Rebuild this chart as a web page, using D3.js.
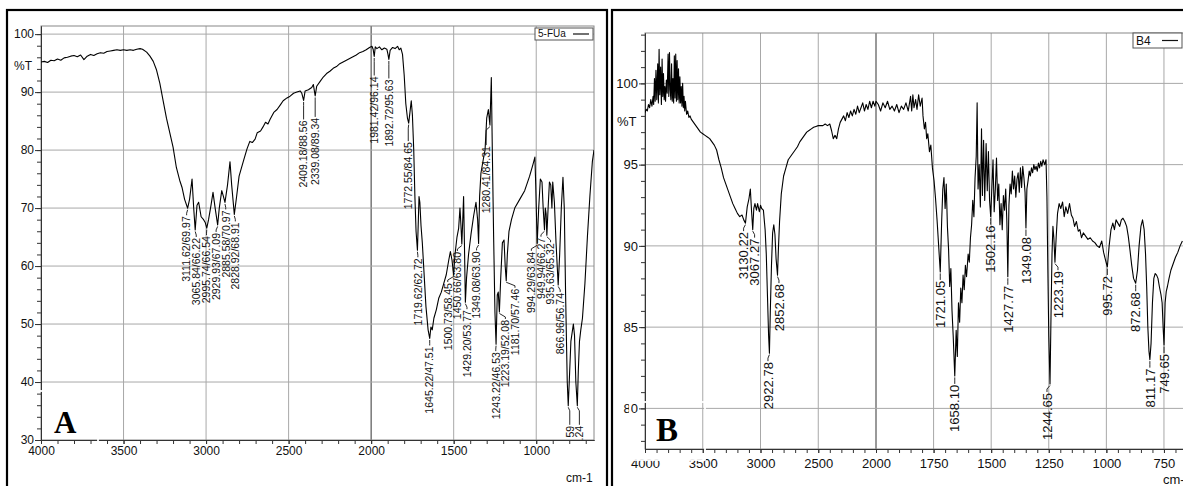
<!DOCTYPE html>
<html><head><meta charset="utf-8">
<script src="https://cdn.jsdelivr.net/npm/d3@7"></script>
<style>body{margin:0;background:#fff}svg{display:block}</style>
</head><body>
<svg id="c" width="1183" height="486"></svg>
<script>
// ---------------- DATA : panel A (5-FUa) ----------------
const specA_wn = [4000,3980,3960,3940,3920,3900,3880,3860,3840,3820,3800,3780,3760,3740,3720,3700,3680,3660,3640,3620,3600,3580,3560,3540,3520,3500,3480,3460,3440,3420,3400,3385,3360,3340,3320,3300,3280,3260,3240,3220,3200,3180,3160,3145,3130,3111.62,3100,3085,3075,3065.84,3055,3045,3030,3015,3005,2995.74,2985,2970,2958,2945,2929.93,2920,2905,2895,2885.58,2870,2855,2845,2828.92,2815,2800,2790,2770,2752,2735,2720,2703,2690,2670,2655,2640,2625,2612,2590,2570,2550,2533,2510,2491,2470,2450,2430,2420,2409.18,2400,2380,2360,2350,2339.08,2330,2310,2290,2270,2250,2230,2210,2190,2170,2150,2130,2110,2090,2070,2050,2030,2010,1995,1988,1981.42,1975,1965,1950,1935,1920,1905,1898,1892.72,1885,1870,1855,1840,1830,1820,1810,1800,1790,1780,1772.55,1765,1757,1750,1742,1735,1728,1719.62,1714,1710,1705,1698,1690,1680,1668,1655,1645.22,1638,1630,1620,1605,1590,1575,1560,1545,1530,1520,1510,1500.73,1492,1480,1470,1462,1456,1450.66,1445,1440,1435,1429.20,1422,1410,1395,1380,1365,1355,1349.08,1343,1335,1320,1310,1300,1290,1280.41,1272,1266,1258,1250,1243.22,1236,1230,1223.19,1215,1205,1195,1188,1181.70,1175,1165,1150,1130,1100,1070,1040,1020,1008,1003,994.29,985,975,965,958,949.94,945,940,935.63,928,920,912,905,900,890,880,866.96,858,848,838,830,822,812,806,800,790,775,768,760,751,745,738,730,720,705,690,675,660,650];
const specA_T = [95.2,95.3,95.1,95.5,95.4,95.7,95.5,95.9,96.0,96.2,96.3,96.1,96.4,95.6,96.2,96.5,96.3,96.6,96.8,96.7,97.0,97.1,97.2,97.3,97.2,97.3,97.2,97.3,97.2,97.4,97.5,97.4,96.9,96.2,95.3,93.8,91.5,88.5,85.5,83.0,80.5,77.0,74.8,73.5,71.5,69.97,71.5,75.0,70.0,66.22,70.5,71.0,68.5,68.0,67.5,66.54,68.0,70.5,72.7,70.0,67.09,70.0,73.0,72.0,70.97,74.0,78.0,74.0,68.91,72.0,75.5,76.5,78.5,80.2,81.5,81.3,81.9,83.0,83.3,84.0,84.8,84.5,85.3,86.5,87.0,87.8,88.5,89.0,89.3,89.8,90.0,90.2,89.8,88.56,90.2,90.4,90.8,91.3,89.34,91.0,91.8,92.6,93.2,93.6,94.1,94.4,94.9,95.2,95.5,95.8,96.1,96.4,96.8,97.0,97.3,97.7,97.9,97.4,96.14,97.8,97.5,97.8,97.3,97.6,97.4,96.5,95.63,97.2,97.7,97.5,97.9,97.3,97.6,96.5,93.0,88.0,85.5,84.65,86.5,88.5,86.0,80.0,72.0,66.0,62.72,68.0,72.0,71.0,67.0,64.0,59.0,53.0,49.0,47.51,49.5,49.0,51.0,52.5,54.5,55.5,57.0,58.5,61.0,62.5,61.0,58.45,62.0,65.0,66.5,70.0,67.0,63.80,68.0,72.0,64.0,53.77,58.0,62.0,65.5,68.5,71.0,68.0,63.90,72.0,76.0,78.5,80.0,85.5,87.0,84.31,92.5,80.0,65.0,52.0,46.53,55.0,55.5,52.08,58.0,64.0,64.5,60.0,57.46,62.0,66.0,68.0,70.0,71.5,73.0,75.5,77.5,78.8,74.0,63.84,70.0,75.0,74.5,70.0,66.27,70.0,69.0,65.32,70.0,74.5,74.0,70.0,74.5,71.0,64.0,56.74,62.0,70.0,75.3,70.0,55.0,40.0,35.9,40.0,47.0,50.0,48.0,40.0,35.9,42.0,47.0,49.0,51.0,57.0,65.0,72.0,78.0,80.0];
const peaksA_text = ["3111.62/69.97","3065.84/66.22","2995.74/66.54","2929.93/67.09","2885.58/70.97","2828.92/68.91","2409.18/88.56","2339.08/89.34","1981.42/96.14","1892.72/95.63","1772.55/84.65","1719.62/62.72","1645.22/47.51","1500.73/58.45","1450.66/63.80","1429.20/53.77","1349.08/63.90","1280.41/84.31","1243.22/46.53","1223.19/52.08","1181.70/57.46","994.29/63.84","949.94/66.27","935.63/65.32","866.96/56.74","59",".24"];
const peaksA_wn = [3111.62,3065.84,2995.74,2929.93,2885.58,2828.92,2409.18,2339.08,1981.42,1892.72,1772.55,1719.62,1645.22,1500.73,1450.66,1429.20,1349.08,1280.41,1243.22,1223.19,1181.70,994.29,949.94,935.63,866.96,806,751];
const peaksA_T = [69.97,66.22,66.54,67.09,70.97,68.91,88.56,89.34,96.14,95.63,84.65,62.72,47.51,58.45,63.80,53.77,63.90,84.31,46.53,52.08,57.46,63.84,66.27,65.32,56.74,35.9,35.9];
const ticksA_x = [4000,3500,3000,2500,2000,1500,1000];
const ticksA_y = [100,90,80,70,60,50,40,30];

// ---------------- DATA : panel B (B4) ----------------
const specB_wn = [4000,3990,3980,3970,3960,3950,3940,3930,3925,3918,3912,3905,3898,3890,3884,3878,3872,3865,3858,3852,3846,3840,3834,3828,3822,3815,3808,3800,3794,3788,3782,3776,3770,3764,3758,3752,3746,3740,3734,3728,3722,3716,3710,3704,3698,3692,3686,3680,3674,3668,3662,3656,3650,3640,3630,3620,3610,3600,3580,3560,3540,3520,3500,3480,3460,3440,3420,3400,3380,3360,3340,3320,3300,3280,3260,3240,3220,3200,3180,3160,3145,3130.22,3115,3100,3088,3078,3067.27,3058,3048,3035,3025,3010,3000,2990,2975,2960,2950,2940,2930,2922.78,2915,2905,2895,2885,2875,2865,2852.68,2845,2835,2820,2800,2780,2760,2740,2720,2700,2680,2660,2640,2620,2600,2580,2560,2540,2520,2500,2480,2460,2440,2420,2400,2385,2370,2355,2340,2325,2310,2295,2280,2265,2250,2235,2220,2205,2190,2175,2160,2145,2130,2115,2100,2085,2070,2055,2040,2025,2010,2000,1990,1980,1970,1960,1950,1940,1930,1920,1910,1900,1890,1880,1870,1860,1850,1845,1840,1835,1828,1822,1815,1808,1800,1796,1790,1785,1780,1775,1768,1762,1755,1748,1742,1735,1728,1721.05,1715,1710,1705,1700,1695,1690,1685,1680,1675,1670,1665,1658.10,1652,1647,1642,1637,1632,1627,1622,1617,1612,1607,1600,1595,1590,1585,1580,1575,1570,1565,1561,1557,1552,1547,1542,1538,1533,1528,1522,1517,1512,1507,1502.16,1497,1492,1487,1482,1477,1472,1467,1462,1457,1452,1447,1442,1437,1432,1427.77,1423,1418,1413,1408,1403,1398,1393,1388,1383,1378,1373,1368,1363,1358,1353,1349.08,1345,1340,1335,1330,1325,1320,1315,1310,1305,1300,1295,1290,1285,1280,1275,1268,1262,1258,1254,1250,1244.65,1240,1236,1232,1228,1223.19,1218,1212,1205,1198,1190,1183,1176,1168,1160,1152,1145,1138,1130,1122,1115,1108,1100,1090,1080,1070,1060,1050,1040,1030,1020,1012,1005,995.72,988,980,972,965,958,950,942,935,928,920,912,905,898,890,882,872.68,865,858,850,843,836,830,825,820,815,811.17,806,800,794,788,782,776,770,763,758,753,749.65,745,740,735,728,720,710,700,690,680,670];
const specB_T = [98.2,98.4,98.3,98.7,98.5,99.0,98.6,99.2,98.7,100.3,98.9,100.8,99.0,101.2,98.8,102.1,99.3,101.0,98.7,101.5,99.2,100.6,99.0,99.8,98.9,100.2,99.4,101.8,99.2,101.9,99.6,99.0,101.2,98.9,100.3,98.8,101.7,99.1,101.8,98.9,101.4,99.0,100.9,98.8,100.4,98.8,99.8,98.6,100.0,98.5,99.2,98.3,98.9,98.1,98.3,97.9,98.0,97.8,97.6,97.4,97.2,97.0,96.9,96.8,96.7,96.6,96.4,96.2,95.9,95.3,94.8,94.2,93.8,93.4,93.0,92.6,92.3,92.0,91.8,91.9,91.6,91.4,92.4,92.9,93.5,92.2,91.0,92.3,92.6,92.2,92.6,92.1,92.5,92.3,92.2,91.0,89.5,87.0,84.5,83.4,86.0,88.8,90.8,91.3,90.7,89.2,88.2,89.8,91.5,93.2,94.3,94.8,95.3,95.5,95.7,95.9,96.1,96.4,96.6,96.8,97.0,97.1,97.2,97.3,97.35,97.4,97.4,97.4,97.5,97.4,97.5,97.1,96.6,96.8,96.6,97.2,97.6,97.8,98.0,97.7,98.2,97.9,98.3,98.0,98.4,98.1,98.6,98.2,98.5,98.8,98.3,98.7,98.4,98.9,98.5,98.9,98.6,98.9,98.7,98.3,98.8,98.5,98.9,98.4,98.6,98.3,98.7,98.2,98.6,98.4,98.8,98.3,99.2,98.3,99.3,98.5,99.0,98.4,99.3,98.6,99.1,98.0,97.2,97.6,96.6,96.9,95.8,96.2,94.8,94.0,93.0,91.6,90.0,88.4,91.5,93.5,94.2,92.3,93.8,91.2,89.8,87.5,88.6,86.0,84.5,82.0,84.8,83.2,86.5,85.3,87.4,86.5,88.2,87.3,88.8,88.1,89.5,89.0,90.5,91.3,92.8,91.8,94.2,95.5,98.8,93.5,95.0,92.4,97.2,93.1,96.5,92.8,96.3,93.4,95.8,92.8,91.8,93.6,95.3,92.1,93.5,95.4,92.8,93.8,91.3,92.6,91.0,93.1,92.2,93.5,91.5,88.1,92.5,93.8,93.2,94.6,93.5,94.3,93.0,94.1,94.5,93.3,94.8,93.6,94.9,94.2,93.3,91.1,93.5,94.0,94.6,94.3,94.8,94.5,95.0,94.7,94.9,94.6,95.1,94.8,95.2,94.9,95.3,95.0,95.3,93.0,88.5,84.5,81.5,86.0,89.5,91.2,90.5,89.0,90.5,92.0,92.6,92.3,92.7,91.8,92.4,92.0,92.6,91.9,91.7,91.2,91.5,90.9,91.0,90.5,90.8,90.6,90.4,90.5,90.3,90.2,90.0,89.9,90.3,89.6,89.2,88.7,90.0,91.0,91.4,91.0,91.6,91.4,91.2,91.6,91.7,91.5,91.2,90.6,89.8,88.8,88.0,87.7,88.5,90.0,91.2,91.6,91.0,89.5,87.5,85.0,83.5,83.0,84.0,86.5,88.0,88.3,88.2,88.0,87.5,87.0,86.5,84.8,83.9,86.5,87.2,87.5,88.0,88.5,88.9,89.3,89.6,90.0,90.3];
const peaksB_text = ["3130.22","3067.27","2922.78","2852.68","1721.05","1658.10","1502.16","1427.77","1349.08","1244.65","1223.19","995.72","872.68","811.17","749.65"];
const peaksB_wn = [3130.22,3067.27,2922.78,2852.68,1721.05,1658.10,1502.16,1427.77,1349.08,1244.65,1223.19,995.72,872.68,811.17,749.65];
const peaksB_T = [91.4,91.0,83.4,88.2,88.4,82.0,91.8,88.1,91.1,81.5,89.0,88.7,87.7,83.0,83.9];
const ticksB_x = [4000,3500,3000,2500,2000,1750,1500,1250,1000,750];
const ticksB_y = [100,95,90,85,80];

// ---------------- LAYOUT (label leader lengths, px) ----------------
const leadA = { "2409.18/88.56": 20, "2339.08/89.34": 22, "1981.42/96.14": 20, "1892.72/95.63": 20, "1772.55/84.65": 19, "1280.41/84.31": 21, "59": 20, ".24": 20 };

// ---------------- DRAWING ----------------
const svg = d3.select("#c");
const FONT = "'Liberation Sans', Arial, sans-serif";
const SERIF = "'Liberation Serif', 'Times New Roman', serif";

function spread(xs, gap) {
  let cl = xs.map((x, i) => ({ ids: [i], sum: x, start: x }));
  let changed = true;
  while (changed) {
    changed = false;
    for (let i = 0; i < cl.length - 1; i++) {
      const a = cl[i], b = cl[i + 1];
      const aEnd = a.start + (a.ids.length - 1) * gap;
      if (b.start - aEnd < gap) {
        const ids = a.ids.concat(b.ids), sum = a.sum + b.sum, n = ids.length;
        cl.splice(i, 2, { ids, sum, start: sum / n - (n - 1) * gap / 2 });
        changed = true; break;
      }
    }
  }
  const out = new Array(xs.length);
  cl.forEach(c => c.ids.forEach((id, k) => out[id] = c.start + k * gap));
  return out;
}

function panel(cfg) {
  const g = svg.append("g");
  const x = cfg.x, y = cfg.y;
  const [x0, x1] = [cfg.plot.left, cfg.plot.right];
  const [y0, y1] = [cfg.plot.top, cfg.plot.bottom];
  const clipId = "clip" + cfg.id;
  svg.append("clipPath").attr("id", clipId).append("rect")
    .attr("x", x0).attr("y", y0).attr("width", x1 - x0).attr("height", y1 - y0);

  const grid = g.append("g");
  cfg.gridX.forEach(v => grid.append("line").attr("x1", x(v)).attr("x2", x(v)).attr("y1", y0).attr("y2", y1)
    .attr("stroke", v === 2000 ? "#555" : "#a8a8a8").attr("stroke-width", v === 2000 ? 1.2 : 1));
  cfg.gridY.forEach(v => grid.append("line").attr("x1", x0).attr("x2", x1).attr("y1", y(v)).attr("y2", y(v))
    .attr("stroke", "#a8a8a8").attr("stroke-width", 1));
  g.append("rect").attr("x", x0).attr("y", y0).attr("width", x1 - x0).attr("height", y1 - y0)
    .attr("fill", "none").attr("stroke", "#888").attr("stroke-width", 1);

  const fmt = d3.format("d");
  const yMinor = g.append("g").attr("transform", `translate(${x0},0)`)
    .call(d3.axisLeft(y).tickValues(cfg.minorY).tickSize(4).tickFormat("").tickSizeOuter(0));
  const yMajor = g.append("g").attr("transform", `translate(${x0},0)`)
    .call(d3.axisLeft(y).tickValues(cfg.ticksY).tickSize(6).tickPadding(1).tickFormat(fmt).tickSizeOuter(0));
  const xMinor = g.append("g").attr("transform", `translate(0,${y1})`)
    .call(d3.axisBottom(x).tickValues(cfg.minorX).tickSize(4).tickFormat("").tickSizeOuter(0));
  const xMajor = g.append("g").attr("transform", `translate(0,${y1})`)
    .call(d3.axisBottom(x).tickValues(cfg.ticksX).tickSize(4).tickPadding(cfg.xPad).tickFormat(fmt).tickSizeOuter(0));
  [yMinor, yMajor, xMinor, xMajor].forEach(a => {
    a.selectAll("path").attr("stroke", "#333");
    a.selectAll("line").attr("stroke", "#333");
    a.selectAll("text").attr("fill", "#111").style("font-family", FONT).style("font-size", cfg.tickFont + "px");
  });
  g.append("text").attr("x", cfg.pctT[0]).attr("y", cfg.pctT[1]).text("%T")
    .style("font-family", FONT).style("font-size", cfg.tickFont + "px").attr("fill", "#111");
  g.append("text").attr("x", cfg.cm[0]).attr("y", cfg.cm[1]).text("cm-1")
    .style("font-family", FONT).style("font-size", cfg.tickFont + "px").attr("fill", "#111");

  const line = d3.line().x(d => x(d[0])).y(d => y(d[1]));
  const pts = cfg.wn.map((w, i) => [w, cfg.T[i]]);
  g.append("path").attr("clip-path", `url(#${clipId})`).attr("d", line(pts))
    .attr("fill", "none").attr("stroke", "#000").attr("stroke-width", 1.1).attr("stroke-linejoin", "round");

  const px = cfg.pwn.map(w => x(w));
  const order = d3.range(px.length).sort((a, b) => px[a] - px[b]);
  const spreadX = spread(order.map(i => px[i]), cfg.labelGap);
  const lx = new Array(px.length);
  order.forEach((id, k) => lx[id] = spreadX[k]);
  const lab = g.append("g").attr("clip-path", `url(#${clipId})`);
  cfg.pwn.forEach((w, i) => {
    const pxx = px[i], py = y(cfg.pT[i]);
    const lead = (cfg.lead && cfg.lead[cfg.ptext[i]]) || cfg.conn;
    const top = py + lead;
    lab.append("path").attr("d", `M${pxx},${py + 1.5}L${lx[i]},${py + 5}L${lx[i]},${top - 1}`)
      .attr("fill", "none").attr("stroke", "#111").attr("stroke-width", 0.9);
    lab.append("text").attr("transform", `translate(${lx[i]},${top}) rotate(-90)`)
      .attr("text-anchor", "end").attr("dy", "0.36em").text(cfg.ptext[i])
      .style("font-family", FONT).style("font-size", cfg.labelFont + "px").attr("fill", "#111");
  });

  const L = cfg.legend;
  g.append("rect").attr("x", L.x).attr("y", L.y).attr("width", L.w).attr("height", L.h)
    .attr("fill", "#fff").attr("stroke", "#555").attr("stroke-width", 1);
  g.append("text").attr("x", L.x + 3).attr("y", L.y + L.h - 3).text(L.text)
    .style("font-family", FONT).style("font-size", L.font + "px").attr("fill", "#111");
  g.append("line").attr("x1", L.x + L.w - 20).attr("x2", L.x + L.w - 4).attr("y1", L.y + L.h / 2).attr("y2", L.y + L.h / 2)
    .attr("stroke", "#111").attr("stroke-width", 1.2);

  const B = cfg.letterBox;
  g.append("rect").attr("x", B.x).attr("y", B.y).attr("width", B.w).attr("height", B.h)
    .attr("fill", "none").attr("stroke", "#fff").attr("stroke-width", 1.8);
  g.append("text").attr("x", cfg.letter.x).attr("y", cfg.letter.y).text(cfg.letter.t)
    .style("font-family", SERIF).style("font-weight", "bold").style("font-size", cfg.letter.size + "px").attr("fill", "#000");

  svg.append("rect").attr("x", cfg.border.x).attr("y", cfg.border.y).attr("width", cfg.border.w).attr("height", cfg.border.h)
    .attr("fill", "none").attr("stroke", "#000").attr("stroke-width", 2.2);
}

const xA = d3.scaleLinear().domain([4000, 650]).range([41, 594]);
const yA = d3.scaleLinear().domain([30, 101.4]).range([440, 26]);
panel({
  id: "A", x: xA, y: yA, plot: { left: 41, right: 594, top: 26, bottom: 440 },
  gridX: [3500, 3000, 2500, 2000, 1500, 1000], gridY: [100, 90, 80, 70, 60, 50, 40],
  ticksX: ticksA_x, ticksY: ticksA_y, xPad: 2,
  minorX: d3.range(4000, 649, -100), minorY: d3.range(30, 101.5, 2),
  tickFont: 12, pctT: [14, 70], cm: [566, 482],
  wn: specA_wn, T: specA_T, pwn: peaksA_wn, pT: peaksA_T, ptext: peaksA_text,
  labelGap: 9.6, labelFont: 10.5, conn: 8, lead: leadA,
  legend: { x: 535, y: 28, w: 58, h: 12, text: "5-FUa", font: 10 },
  letterBox: { x: 12, y: 391, w: 86, h: 66 },
  letter: { x: 54, y: 433, t: "A", size: 31 },
  border: { x: 7, y: 10, w: 600, h: 480 }
});

const xB = d3.scaleLinear().domain([4000, 2000, 650]).range([645, 876, 1187]);
const yB = d3.scaleLinear().domain([77.5, 103.1]).range([449, 33]);
panel({
  id: "B", x: xB, y: yB, plot: { left: 645, right: 1187, top: 33, bottom: 449 },
  gridX: [3500, 3000, 2500, 2000, 1750, 1500, 1250, 1000, 750], gridY: [100, 95, 90, 85, 80],
  ticksX: ticksB_x, ticksY: ticksB_y, xPad: 6,
  minorX: d3.range(4000, 1999, -100).concat(d3.range(1950, 649, -50)), minorY: d3.range(78, 103.5, 1),
  tickFont: 13, pctT: [617, 126], cm: [1163, 484],
  wn: specB_wn, T: specB_T, pwn: peaksB_wn, pT: peaksB_T, ptext: peaksB_text,
  labelGap: 11, labelFont: 13, conn: 9,
  legend: { x: 1133, y: 33, w: 49, h: 15, text: "B4", font: 12 },
  letterBox: { x: 630, y: 402, w: 75, h: 58 },
  letter: { x: 656, y: 441, t: "B", size: 33 },
  border: { x: 612, y: 10, w: 600, h: 480 }
});
</script>
</body></html>
